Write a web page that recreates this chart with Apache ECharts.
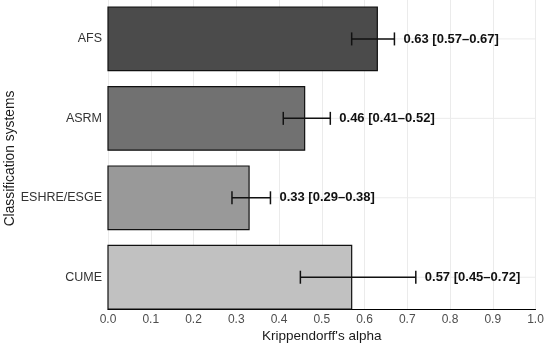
<!DOCTYPE html>
<html><head><meta charset="utf-8">
<script src="https://cdn.jsdelivr.net/npm/echarts@6/dist/echarts.min.js"></script>
<style>html,body{margin:0;padding:0;background:#fff}#c{width:550px;height:346px}</style>
</head><body><div id="c"></div>
<script>
// Data (bottom to top order in chart: CUME, ESHRE/ESGE, ASRM, AFS)
const categories = ['CUME', 'ESHRE/ESGE', 'ASRM', 'AFS'];
const alphaValues = [0.57, 0.33, 0.46, 0.63];
const ciLow = [0.45, 0.29, 0.41, 0.57];
const ciHigh = [0.72, 0.38, 0.52, 0.67];
const barColors = ['#c1c1c1', '#999999', '#717171', '#4b4b4b'];
const xTicks = [0.0, 0.1, 0.2, 0.3, 0.4, 0.5, 0.6, 0.7, 0.8, 0.9, 1.0];

const fmt = v => v.toFixed(2);
const rows = categories.map((c, i) => [i + 1, alphaValues[i], ciLow[i], ciHigh[i], i]);

const chart = echarts.init(document.getElementById('c'), null, {renderer: 'canvas'});
const font = '"Liberation Sans", Arial, sans-serif';
chart.setOption({
  animation: false,
  grid: {left: 108, right: 14.5, top: 0, bottom: 37, containLabel: false, outerBoundsMode: 'none'},
  xAxis: {
    type: 'value', min: 0, max: 1, interval: 0.1,
    axisLine: {show: true, lineStyle: {color: '#000', width: 1.2}},
    axisTick: {show: false},
    splitLine: {show: true, lineStyle: {color: '#ebebeb', width: 1}},
    axisLabel: {margin: 5, color: '#4d4d4d', fontSize: 12, fontFamily: font,
      formatter: v => v.toFixed(1)},
    name: "Krippendorff's alpha", nameLocation: 'middle', nameGap: 20, nameMoveOverlap: false,
    nameTextStyle: {fontSize: 13.5, color: '#1a1a1a', fontFamily: font}
  },
  yAxis: {
    type: 'value', min: 0.6, max: 4.49, interval: 0.2,
    axisLine: {show: false}, axisTick: {show: false}, splitLine: {show: false},
    axisLabel: {margin: 6, color: '#333', fontSize: 12.5, fontFamily: font,
      formatter: v => {
        const r = Math.round(v);
        return Math.abs(v - r) < 1e-6 && r >= 1 && r <= categories.length ? categories[r - 1] : '';
      }},
    name: 'Classification systems', nameLocation: 'middle', nameGap: 91, nameMoveOverlap: false,
    nameTextStyle: {fontSize: 13.8, color: '#1a1a1a', fontFamily: font, padding: [0, 8, 0, 0]}
  },
  series: [
    {
      type: 'custom', z: 1, silent: true,
      data: rows,
      renderItem: (params, api) => {
        const pos = api.value(0);
        const a = api.coord([0, pos]);
        const b = api.coord([1, pos]);
        return {type: 'line', shape: {x1: a[0], y1: a[1], x2: b[0], y2: b[1]},
          style: {stroke: '#ebebeb', lineWidth: 1}};
      }
    },
    {
      type: 'custom', z: 2, silent: true,
      data: rows,
      renderItem: (params, api) => {
        const pos = api.value(0), val = api.value(1), lo = api.value(2), hi = api.value(3);
        const idx = api.value(4);
        const p0 = api.coord([0, pos + 0.4]);
        const p1 = api.coord([val, pos - 0.4]);
        const cl = api.coord([lo, pos]);
        const ch = api.coord([hi, pos]);
        const cap = 6.5;
        return {type: 'group', children: [
          {type: 'rect', shape: {x: p0[0], y: p0[1], width: p1[0] - p0[0], height: p1[1] - p0[1]},
            style: {fill: barColors[idx], stroke: '#111', lineWidth: 1.2}},
          {type: 'line', shape: {x1: cl[0], y1: cl[1], x2: ch[0], y2: ch[1]}, style: {stroke: '#111', lineWidth: 1.5}},
          {type: 'line', shape: {x1: cl[0], y1: cl[1] - cap, x2: cl[0], y2: cl[1] + cap}, style: {stroke: '#111', lineWidth: 1.5}},
          {type: 'line', shape: {x1: ch[0], y1: ch[1] - cap, x2: ch[0], y2: ch[1] + cap}, style: {stroke: '#111', lineWidth: 1.5}},
          {type: 'text', style: {x: ch[0] + 9, y: ch[1],
            text: fmt(val) + ' [' + fmt(lo) + '\u2013' + fmt(hi) + ']',
            fill: '#111', font: 'bold 13px ' + font, verticalAlign: 'middle', align: 'left'}}
        ]};
      }
    }
  ]
});
</script></body></html>
